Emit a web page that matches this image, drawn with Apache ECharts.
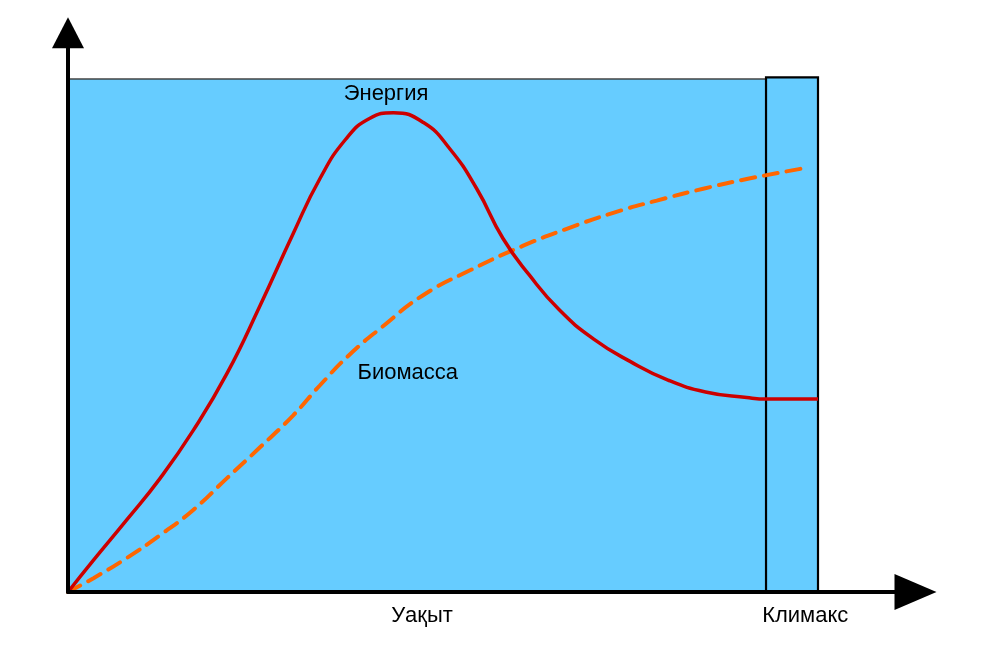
<!DOCTYPE html>
<html>
<head>
<meta charset="utf-8">
<script src="https://cdn.jsdelivr.net/npm/echarts@6/dist/echarts.min.js"></script>
<style>html,body{margin:0;padding:0;background:#fff}#c{width:990px;height:660px}</style>
</head>
<body>
<div id="c"></div>
<script>
// Energy curve (x: time units, y: level)
const energyX = [0, 3.4, 7.8, 12.3, 16.7, 21.2, 25.6, 30.0, 33.6, 37.0, 40.2, 43.4, 47.4, 50.9, 54.5, 58.0, 61.5, 65.5, 70.0, 75.0, 80.0, 85.0, 90.5, 93.2, 100];
const energyY = [0, 6.2, 14.0, 22.2, 31.5, 42.6, 55.8, 69.8, 80.6, 88.2, 92.3, 93.4, 91.5, 86.4, 78.6, 68.9, 61.8, 55.0, 49.4, 44.9, 41.3, 39.0, 37.9, 37.6, 37.6];
// Biomass curve
const biomassX = [0, 3.4, 7.8, 12.3, 16.7, 21.2, 25.6, 30.0, 33.6, 37.5, 42.0, 47.3, 53.6, 60.7, 66.5, 72.7, 78.5, 84.7, 90.5, 98.5];
const biomassY = [0, 2.7, 6.6, 11.1, 16.0, 22.2, 28.2, 34.4, 40.3, 46.2, 51.8, 57.8, 62.7, 67.5, 70.8, 73.9, 76.3, 78.6, 80.5, 82.7];
// Regions
const regionEnd = 100;
const climaxStart = 93.07;
const regionTop = 100;
// Axis labels
const xLabelValues = [47.2, 98.3];
const xLabelTexts = ['Уақыт', 'Климакс'];
// Curve labels
const curveLabels = [
  { text: 'Энергия', x: 42.4, y: 97.0 },
  { text: 'Биомасса', x: 45.3, y: 42.7 }
];

const font = 'Liberation Sans';
const fsize = 22;
const energyData = energyX.map((x, i) => [x, energyY[i]]);
const biomassData = biomassX.map((x, i) => [x, biomassY[i]]);

const chart = echarts.init(document.getElementById('c'), null, { renderer: 'canvas' });
chart.setOption({
  animation: false,
  backgroundColor: '#ffffff',
  grid: { left: 68, right: 74.5, top: 32.8, bottom: 68, containLabel: false },
  xAxis: {
    type: 'value', min: 0, max: 113, z: 10,
    splitLine: { show: false },
    axisTick: { show: false },
    axisLine: { show: true, onZero: false, symbol: ['none', 'triangle'], symbolSize: [36, 42],
      lineStyle: { color: '#000', width: 4 } },
    axisLabel: {
      show: true, customValues: xLabelValues, margin: 13,
      fontFamily: font, fontSize: fsize, color: '#000',
      formatter: function (v) {
        const i = xLabelValues.findIndex(t => Math.abs(t - v) < 1e-6);
        return i >= 0 ? xLabelTexts[i] : '';
      }
    }
  },
  yAxis: {
    type: 'value', min: 0, max: 109, z: 10,
    splitLine: { show: false },
    axisTick: { show: false },
    axisLabel: { show: false },
    axisLine: { show: true, onZero: false, symbol: ['none', 'triangle'], symbolSize: [32, 31],
      lineStyle: { color: '#000', width: 4 } }
  },
  series: [
    {
      type: 'line', name: 'region', data: [], silent: true,
      markArea: {
        silent: true,
        label: { show: false },
        data: [
          [{ coord: [0, regionTop], itemStyle: { color: '#66CCFF', borderColor: '#444', borderWidth: 1.5 } }, { coord: [climaxStart, 0] }],
          [{ coord: [climaxStart, regionTop + 0.3], itemStyle: { color: '#66CCFF', borderColor: '#000', borderWidth: 2.2 } }, { coord: [regionEnd, 0] }]
        ]
      }
    },
    {
      type: 'line', name: 'Биомасса', data: biomassData, smooth: 0.5, showSymbol: false, silent: true,
      lineStyle: { color: '#FF6600', width: 4, type: [14, 9], cap: 'round' }, z: 3
    },
    {
      type: 'line', name: 'Энергия', data: energyData, smooth: 0.5, showSymbol: false, silent: true,
      lineStyle: { color: '#CC0000', width: 3.5 }, z: 4,
      markPoint: {
        silent: true, symbol: 'circle', symbolSize: 0,
        label: { show: true, position: 'inside', fontFamily: font, fontSize: fsize, color: '#000',
          formatter: p => p.name },
        data: curveLabels.map(l => ({ name: l.text, coord: [l.x, l.y] }))
      }
    }
  ]
});
</script>
</body>
</html>
